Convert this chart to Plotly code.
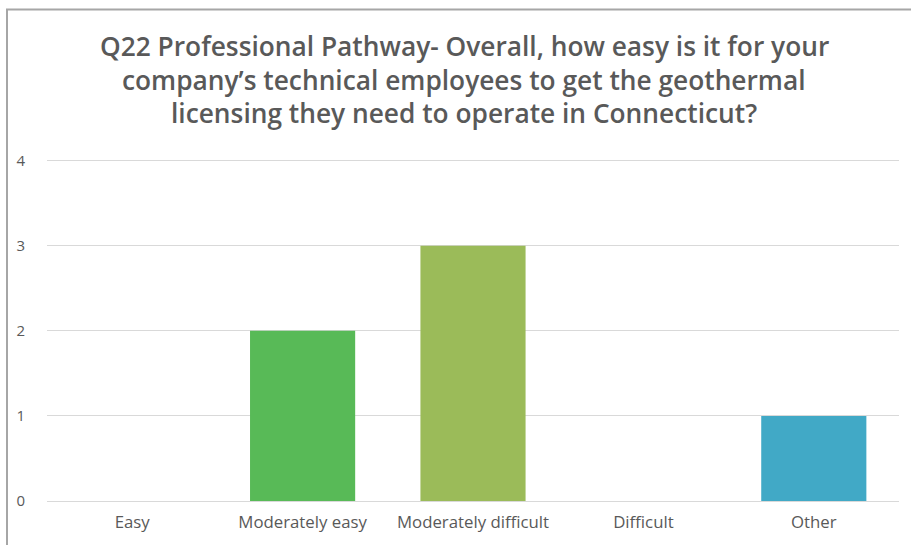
import plotly.graph_objects as go

# Survey responses
categories = ["Easy", "Moderately easy", "Moderately difficult", "Difficult", "Other"]
counts = [0, 2, 3, 0, 1]
bar_colors = ["#5bbb5a", "#58ba57", "#9bbb59", "#8064a2", "#41a9c6"]

title_lines = [
    "Q22 Professional Pathway- Overall, how easy is it for your",
    "company’s technical employees to get the geothermal",
    "licensing they need to operate in Connecticut?",
]
y_ticks = [0, 1, 2, 3, 4]

W, H = 911, 545
L, R, T, B = 47, 12, 159, 42
plot_w = W - L - R
plot_h = H - T - B

fig = go.Figure(
    go.Bar(
        x=categories,
        y=counts,
        marker=dict(color=bar_colors, line=dict(width=0)),
        hoverinfo="x+y",
    )
)

# Title as separate lines for spacing control
title_y_px = [45, 80, 113]
annotations = []
for line, ypx in zip(title_lines, title_y_px):
    annotations.append(
        dict(
            text=line,
            xref="paper", yref="paper",
            x=(464 - L) / plot_w,
            y=(H - B - ypx) / plot_h,
            xanchor="center", yanchor="middle",
            showarrow=False,
            font=dict(family="Open Sans", size=26.3, weight=600, color="#595959"),
        )
    )

# Chart frame (top and left edges)
def px_x(p):
    return (p - L) / plot_w

def px_y(p):
    return (H - B - p) / plot_h

shapes = [
    dict(type="line", xref="paper", yref="paper",
         x0=px_x(6), x1=px_x(W + 5), y0=px_y(8.5), y1=px_y(8.5),
         line=dict(color="#a6a6a6", width=2)),
    dict(type="line", xref="paper", yref="paper",
         x0=px_x(7), x1=px_x(7), y0=px_y(8.5), y1=px_y(H + 5),
         line=dict(color="#a6a6a6", width=2)),
]

fig.update_layout(
    width=W, height=H,
    margin=dict(l=L, r=R, t=T, b=B),
    paper_bgcolor="white",
    plot_bgcolor="white",
    bargap=0.383,
    showlegend=False,
    annotations=annotations,
    shapes=shapes,
    font=dict(family="Open Sans", size=16.8, color="#595959"),
)
fig.update_xaxes(
    showgrid=False, showline=False, zeroline=False, ticks="",
    tickfont=dict(size=16.8, color="#595959"),
    ticklabelstandoff=9,
)
fig.update_yaxes(
    range=[0, 4.02], tickvals=y_ticks,
    showgrid=True, gridcolor="#d9d9d9", gridwidth=1,
    zeroline=True, zerolinecolor="#d9d9d9", zerolinewidth=1,
    showline=False, ticks="",
    tickfont=dict(size=15, color="#595959"),
    ticklabelstandoff=21,
)

fig.write_html("out.html")
